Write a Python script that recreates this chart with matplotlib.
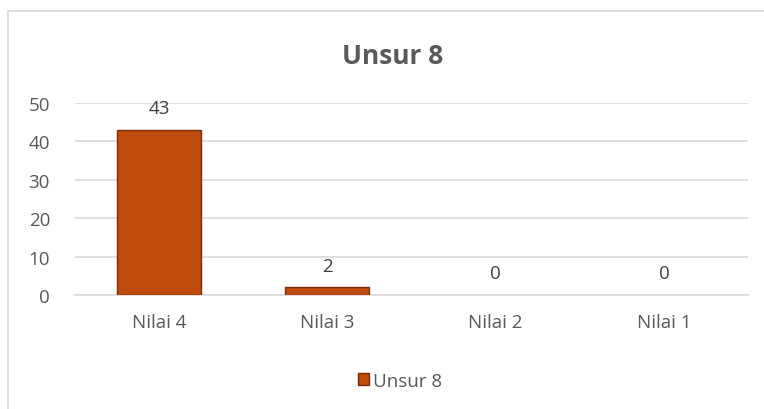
import matplotlib.pyplot as plt
from matplotlib.patches import Rectangle, Patch

categories = ["Nilai 4", "Nilai 3", "Nilai 2", "Nilai 1"]
values = [43, 2, 0, 0]
series_name = "Unsur 8"
yticks = [0, 10, 20, 30, 40, 50]

plt.rcParams['font.family'] = ['Open Sans', 'DejaVu Sans']
text_color = '#595959'
grid_color = '#D9D9D9'
bar_color = '#BE4B0B'
edge_color = '#7A2E05'

W, H = 764, 410
fig = plt.figure(figsize=(W / 100, H / 100), dpi=100)

# chart frame
fig.patches.append(Rectangle((8 / W, -0.05), 1.0, 1 - 12 / H + 0.05,
                             transform=fig.transFigure, fill=False,
                             edgecolor=grid_color, linewidth=1.2))

ax = fig.add_axes([75 / W, 1 - 296 / H, 673 / W, 192 / H])
x = list(range(len(categories)))
bars = ax.bar(x, values, width=0.5, color=bar_color, edgecolor=edge_color,
              linewidth=1.0, zorder=3)
for b, v in zip(bars, values):
    if v == 0:
        b.set_linewidth(0)

for xi, v in zip(x, values):
    ax.annotate(str(v), (xi, v), xytext=(0, 9), textcoords='offset points',
                ha='center', va='bottom', fontsize=13.5, color='#404040')

ax.set_xlim(-0.5, len(categories) - 0.5)
ax.set_ylim(0, 50)
ax.set_yticks(yticks)
ax.set_xticks(x)
ax.set_xticklabels(categories)
ax.tick_params(axis='both', length=0, labelsize=13.5, labelcolor=text_color)
ax.tick_params(axis='y', pad=18)
ax.tick_params(axis='x', pad=13)
ax.grid(axis='y', color=grid_color, linewidth=1.2, zorder=0)
for side in ['top', 'right', 'left']:
    ax.spines[side].set_visible(False)
ax.spines['bottom'].set_color(grid_color)
ax.spines['bottom'].set_linewidth(1.2)

fig.text(393 / W, 1 - 56 / H, "Unsur 8", ha='center', va='center',
         fontsize=19, fontweight='bold', color=text_color)

handle = Patch(facecolor=bar_color, edgecolor=edge_color, label=series_name)
fig.legend(handles=[handle], loc='center', bbox_to_anchor=(400 / W, 1 - 382 / H),
           frameon=False, fontsize=13.5, handlelength=0.6, handleheight=0.6,
           handletextpad=0.2, labelcolor=text_color)

fig.savefig("out.png", dpi=100)
